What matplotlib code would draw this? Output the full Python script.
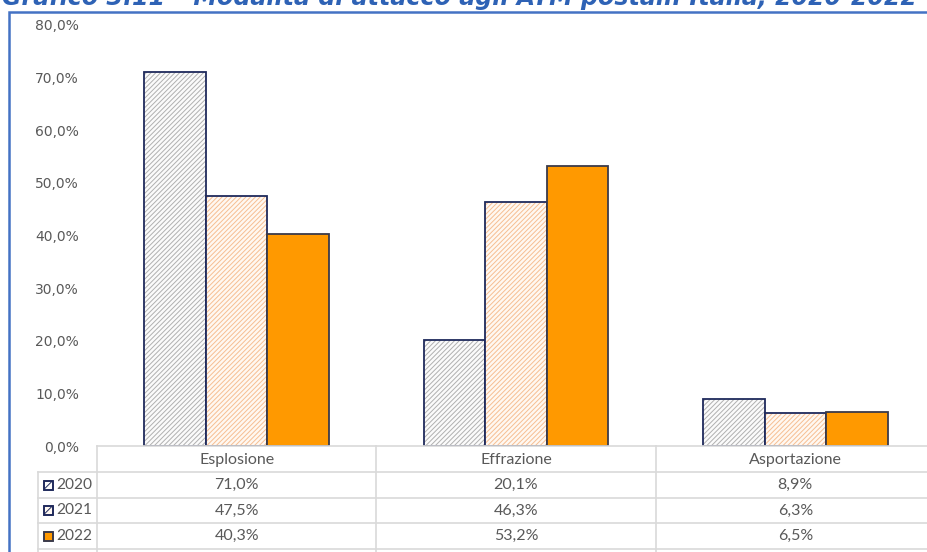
import matplotlib.pyplot as plt
import matplotlib.transforms as mtransforms
from matplotlib.patches import Rectangle
from matplotlib.lines import Line2D
import numpy as np

# Dati
categorie = ["Esplosione", "Effrazione", "Asportazione"]
anni = ["2020", "2021", "2022"]
v2020 = [71.0, 20.1, 8.9]
v2021 = [47.5, 46.3, 6.3]
v2022 = [40.3, 53.2, 6.5]
serie = [v2020, v2021, v2022]
titolo = "Grafico 3.11 \u2013 Modalità di attacco agli ATM postali. Italia, 2020-2022"

W, H = 928, 552
plt.rcParams["hatch.linewidth"] = 0.7
fig = plt.figure(figsize=(W / 100, H / 100), dpi=100)

def fx(x):
    return x / W

def fy(y):
    return 1 - y / H

# stili: (fondo, colore tratteggio, hatch, bordo)
stili = [
    ("#FBFBFB", "#B0B0B0", "///////", "#1F2A5C"),
    ("#FFF8F1", "#F6BE92", "///////", "#1F2A5C"),
    ("#FF9900", None, None, "#3A3A4A"),
]

ax = fig.add_axes([fx(97), fy(446), fx(935 - 97), (446 - 25) / H])
x = np.arange(len(categorie))
w = 0.22
for i, (vals, (fc, hc, hatch, ec)) in enumerate(zip(serie, stili)):
    pos = x + (i - 1) * w
    if hatch:
        ax.bar(pos, vals, w, color=fc, edgecolor=hc, hatch=hatch, linewidth=0)
        ax.bar(pos, vals, w, fill=False, edgecolor=ec, linewidth=1.3)
    else:
        ax.bar(pos, vals, w, color=fc, edgecolor=ec, linewidth=1.3)

ax.set_xlim(-0.5, 2.5)
ax.set_ylim(0, 80)
ax.set_yticks(range(0, 81, 10))
ax.set_yticklabels([f"{t},0%" for t in range(0, 81, 10)])
ax.tick_params(axis="y", length=0, pad=13, labelsize=10, labelcolor="#595959")
ax.set_xticks([])
for s in ax.spines.values():
    s.set_visible(False)

# Tabella dati
grigio = "#D9D9D9"
tr = mtransforms.blended_transform_factory(ax.transData, fig.transFigure)
righe_y = [446, 472, 498, 523, 549]
bordi_x = [97, 376, 656]
fig.add_artist(Line2D([fx(97), 1], [fy(446)] * 2, color=grigio, lw=1.2))
for yy in righe_y[1:]:
    fig.add_artist(Line2D([fx(38), 1], [fy(yy)] * 2, color=grigio, lw=1.2))
for xx in bordi_x:
    fig.add_artist(Line2D([fx(xx)] * 2, [fy(446), 0], color=grigio, lw=1.2))
fig.add_artist(Line2D([fx(38)] * 2, [fy(472), 0], color=grigio, lw=1.2))

for j, c in enumerate(categorie):
    fig.text(x[j], fy(460), c, transform=tr, ha="center", va="center",
             fontsize=11.5, color="#595959", family="Lato")
for i, (vals, a, (fc, hc, hatch, ec)) in enumerate(zip(serie, anni, stili)):
    yc = (righe_y[i + 1] + righe_y[i + 2]) / 2
    for j, v in enumerate(vals):
        fig.text(x[j], fy(yc), f"{v:.1f}%".replace(".", ","), transform=tr,
                 ha="center", va="center", fontsize=11.5, color="#595959", family="Lato")
    fig.add_artist(Rectangle((fx(44), fy(yc + 4.5)), fx(9), 9 / H, facecolor=fc,
                             edgecolor=ec, lw=1.2, hatch="////" if hatch else None))
    fig.add_artist(Rectangle((fx(44), fy(yc + 4.5)), fx(9), 9 / H, fill=False,
                             edgecolor=ec, lw=1.2))
    fig.text(fx(56), fy(yc), a, ha="left", va="center", fontsize=11.2,
             color="#595959", family="Lato")

# cornice blu
fig.add_artist(Rectangle((fx(9), -0.1), 1.2, fy(12) + 0.1, fill=False,
                         edgecolor="#4472C4", lw=1.8))

# titolo tagliato in alto
fig.text(fx(2), fy(5), titolo, ha="left", va="baseline", fontsize=17.1,
         fontweight="bold", fontstyle="italic", color="#2E62B5", family="DejaVu Sans")

fig.savefig("out.png", dpi=100)
